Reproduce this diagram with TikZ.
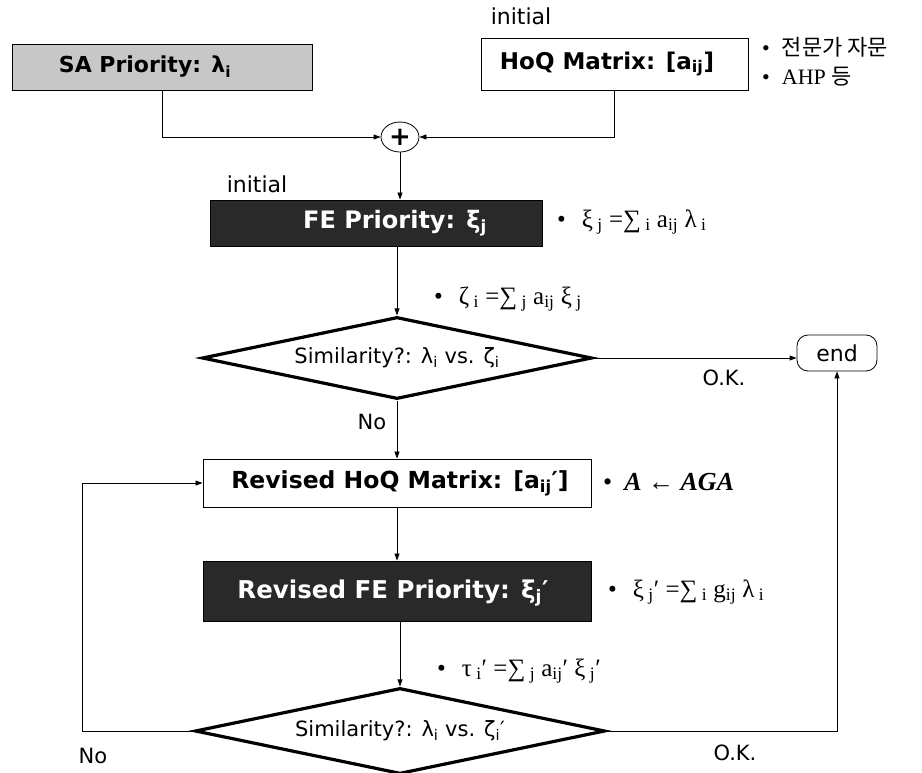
\documentclass[tikz,border=0pt]{standalone}
\usepackage{fontspec}
\setmainfont{Liberation Serif}
\newfontfamily\vf{DejaVu Sans}
\newfontfamily\kr{Noto Sans CJK KR}
\usetikzlibrary{arrows.meta,shapes.geometric}
\tikzset{
  arr/.style={draw, line width=0.8pt, -{Triangle[length=7pt,width=5pt]}},
  whitebox/.style={draw, line width=0.9pt, fill=white, inner sep=0pt},
  graybox/.style={draw, line width=0.9pt, fill=black!22, inner sep=0pt},
  darkbox/.style={draw, line width=0.9pt, fill=black!84, inner sep=0pt},
  boxtxt/.style={font=\vf\bfseries\fontsize{20}{24}\selectfont, inner sep=0pt},
  dtxt/.style={boxtxt, text=white},
  plain/.style={font=\vf\fontsize{21}{25}\selectfont, inner sep=0pt},
  dia/.style={diamond, draw, line width=3.2pt, inner sep=0pt, font=\vf\fontsize{21}{25}\selectfont},
  note/.style={font=\fontsize{25}{28}\selectfont, inner sep=0pt, anchor=west},
}
\newcommand{\bul}{\textbullet\hspace{16pt}}
\begin{document}
\begin{tikzpicture}[x=1pt,y=-1pt]
\useasboundingbox (0,0) rectangle (922,772);

% top boxes
\node[graybox, minimum width=300pt, minimum height=46pt] (sa) at (162,67) {};
\node[boxtxt, font=\vf\bfseries\fontsize{22}{26}\selectfont] (satxt) at (145,67) {SA Priority: λ\textsubscript{i}};
\node[whitebox, minimum width=267pt, minimum height=52pt] (hoq) at (614.5,64) {};
\node[boxtxt, font=\vf\bfseries\fontsize{23}{26}\selectfont] (hoqtxt) at (607,64) {HoQ Matrix: [a\textsubscript{ij}]};
\node[plain, font=\vf\fontsize{22}{26}\selectfont] (init1) at (521,16) {initial};
\node[note, font=\fontsize{22}{26}\selectfont] (k1) at (762,47) {\textbullet\hspace{12pt}{\kr 전문가 자문}};
\node[note, font=\fontsize{22}{26}\selectfont] (k2) at (762,77) {\textbullet\hspace{12pt}AHP {\kr 등}};

% plus
\node[ellipse, draw, line width=0.8pt, minimum width=38pt, minimum height=30pt, inner sep=0pt, font=\vf\bfseries\fontsize{26}{26}\selectfont] (plus) at (400,137) {+};
\draw[arr] (sa.south) |- (plus.west);
\draw[arr] (hoq.south) |- (plus.east);

% FE priority
\node[plain, font=\vf\fontsize{22}{26}\selectfont] (init2) at (257,184) {initial};
\node[darkbox, minimum width=332pt, minimum height=46pt] (fe) at (376,223) {};
\node[dtxt, font=\vf\bfseries\fontsize{24}{28}\selectfont] (fetxt) at (395,223) {FE Priority: ξ\textsubscript{j}};
\draw[arr] (plus.south) -- (plus.south |- fe.north);
\node[note] (f1) at (557,222) {\bul ξ\textsubscript{ j} =∑\textsubscript{ i} a\textsubscript{ij} λ\textsubscript{ i}};

% diamond 1
\node[dia, shape aspect=4.76, minimum width=390pt, minimum height=82pt] (d1) at (397,358) {Similarity?: λ\textsubscript{i} vs. ζ\textsubscript{i}};
\draw[arr] (fe.south -| d1.north) -- (d1.north);
\node[note] (f2) at (434,299) {\bul ζ\textsubscript{ i} =∑\textsubscript{ j} a\textsubscript{ij} ξ\textsubscript{ j}};

% end
\node[draw, line width=0.8pt, rounded corners=11pt, minimum width=80pt, minimum height=36pt, font=\vf\fontsize{22}{26}\selectfont] (endn) at (837,353) {end};
\draw[arr] (d1.east) -- (d1.east -| endn.west);
\node[plain] (ok1) at (724,378) {O.K.};
\node[plain] (no1) at (372,422) {No};

% revised HoQ
\node[whitebox, minimum width=388pt, minimum height=48pt] (rhoq) at (397,483) {};
\node[boxtxt, font=\vf\bfseries\fontsize{23.5}{27}\selectfont] (rhoqtxt) at (400,483) {Revised HoQ Matrix: [a\textsubscript{ij}′]};
\draw[arr] (d1.south) -- (d1.south |- rhoq.north);
\node[note, font=\fontsize{26}{28}\selectfont] (f3) at (603,482) {\textbullet\hspace{12pt}\textbf{\textit{A}} ← \textbf{\textit{AGA}}};

% revised FE
\node[darkbox, minimum width=388pt, minimum height=60pt] (rfe) at (397,591) {};
\node[dtxt, font=\vf\bfseries\fontsize{24.5}{28}\selectfont] (rfetxt) at (393,593) {Revised FE Priority: ξ\textsubscript{j}′};
\draw[arr] (rhoq.south) -- (rhoq.south |- rfe.north);
\node[note] (f4) at (608,592) {\bul ξ\textsubscript{ j}′ =∑\textsubscript{ i} g\textsubscript{ij} λ\textsubscript{ i}};

% diamond 2
\node[dia, shape aspect=4.77, minimum width=410pt, minimum height=86pt] (d2) at (400,731) {Similarity?: λ\textsubscript{i} vs. ζ\textsubscript{i}′};
\draw[arr] (rfe.south -| d2.north) -- (d2.north);
\node[note] (f5) at (437,671) {\bul τ\textsubscript{ i}′ =∑\textsubscript{ j} a\textsubscript{ij}′ ξ\textsubscript{ j}′};

% loops
\coordinate (lc) at (82,0);
\draw[arr] (d2.west) -- (lc |- d2.west) -- (lc |- rhoq.west) -- (rhoq.west);
\draw[arr] (d2.east) -| (endn.south);
\node[plain] (no2) at (93,756) {No};
\node[plain] (ok2) at (735,753) {O.K.};
\end{tikzpicture}
\end{document}
